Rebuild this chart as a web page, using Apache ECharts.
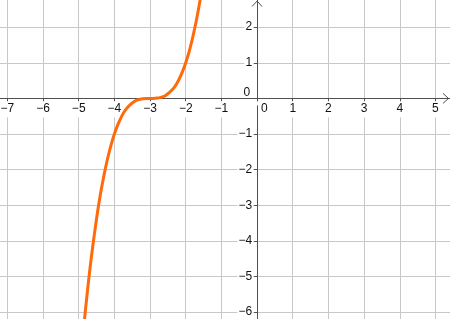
<!DOCTYPE html>
<html>
<head>
<meta charset="utf-8">
<script src="https://cdn.jsdelivr.net/npm/echarts@6/dist/echarts.min.js"></script>
<style>
html,body{margin:0;padding:0;background:#fff;}
#c{width:450px;height:319px;}
</style>
</head>
<body>
<div id="c"></div>
<script>
// values (curve samples)
const curveX = [-4.84,-4.8,-4.7,-4.6,-4.5,-4.4,-4.3,-4.2,-4.1,-4.0,-3.9,-3.8,-3.7,-3.6,-3.5,-3.4,-3.3,-3.2,-3.1,-3.0,-2.9,-2.8,-2.7,-2.6,-2.5,-2.4,-2.3,-2.2,-2.1,-2.0,-1.9,-1.8,-1.7,-1.6,-1.55];
const curveY = [-6.23,-5.83,-4.91,-4.10,-3.38,-2.74,-2.20,-1.73,-1.33,-1.00,-0.73,-0.51,-0.34,-0.22,-0.13,-0.06,-0.03,-0.01,0.00,0.00,0.00,0.01,0.03,0.06,0.13,0.22,0.34,0.51,0.73,1.00,1.33,1.73,2.20,2.74,3.05];
const xTicks = [-7,-6,-5,-4,-3,-2,-1,0,1,2,3,4,5];
const yTicks = [-6,-5,-4,-3,-2,-1,0,1,2];

const fmt = v => (v < 0 ? '\u2212' + Math.abs(v) : String(v));
const FONT = 'Liberation Sans';
const AXIS = '#505050';
const GRID = '#c8c8c8';
const TXT = '#111';

const G = {left: -28.3, width: 499.4, top: -8.46, height: 356.2};
const XMIN = -8, XMAX = 6, YMIN = -7, YMAX = 3;
// move the axes (line + labels) onto the origin
const xAxisOffset = -G.height * (0 - YMIN) / (YMAX - YMIN);
const yAxisOffset = -G.width * (0 - XMIN) / (XMAX - XMIN);

const chart = echarts.init(document.getElementById('c'), null, {renderer: 'canvas'});
chart.setOption({
  animation: false,
  backgroundColor: '#fff',
  grid: Object.assign({containLabel: false, outerBoundsMode: 'none'}, G),
  xAxis: {
    type: 'value', min: XMIN, max: XMAX, interval: 1,
    position: 'bottom', offset: xAxisOffset,
    axisLine: {onZero: false, lineStyle: {color: AXIS, width: 1}},
    axisTick: {show: true, length: 3, lineStyle: {color: AXIS}},
    splitLine: {show: true, lineStyle: {color: GRID, width: 1}},
    axisLabel: {
      margin: 3, fontFamily: FONT, fontSize: 12, color: TXT,
      backgroundColor: '#fff', padding: [1, 1, 3, 1],
      formatter: v => (xTicks.indexOf(v) >= 0 && v !== 0 ? fmt(v) : '')
    }
  },
  yAxis: {
    type: 'value', min: YMIN, max: YMAX, interval: 1,
    position: 'left', offset: yAxisOffset,
    axisLine: {onZero: false, lineStyle: {color: AXIS, width: 1}},
    axisTick: {show: true, length: 3, lineStyle: {color: AXIS}},
    splitLine: {show: true, lineStyle: {color: GRID, width: 1}},
    axisLabel: {
      margin: 4, fontFamily: FONT, fontSize: 12, color: TXT,
      backgroundColor: '#fff', padding: [0, 1, 0, 1],
      formatter: v => (yTicks.indexOf(v) >= 0 && v !== 0 ? fmt(v) : '')
    }
  },
  series: [{
    type: 'line',
    data: curveX.map((x, i) => [x, curveY[i]]),
    showSymbol: false,
    smooth: 0.3,
    lineStyle: {color: '#ff6a0a', width: 3},
    clip: true
  }]
});

const o = chart.convertToPixel({gridIndex: 0}, [0, 0]);
const W = chart.getWidth();
chart.setOption({
  graphic: [
    {type: 'text', x: o[0] - 7, y: o[1] + 0.5,
     style: {text: '0', fontFamily: FONT, fontSize: 12, fill: TXT, align: 'right', verticalAlign: 'bottom'}},
    {type: 'text', x: o[0] + 4, y: o[1] + 4,
     style: {text: '0', fontFamily: FONT, fontSize: 12, fill: TXT, align: 'left', verticalAlign: 'top', backgroundColor: '#fff'}},
    {type: 'polyline', shape: {points: [[W - 7, o[1] - 5], [W - 1.5, o[1]], [W - 7, o[1] + 5]]},
     style: {stroke: AXIS, lineWidth: 1, fill: null}},
    {type: 'polyline', shape: {points: [[o[0] - 5, 6.5], [o[0], 1], [o[0] + 5, 6.5]]},
     style: {stroke: AXIS, lineWidth: 1, fill: null}}
  ]
});
</script>
</body>
</html>
